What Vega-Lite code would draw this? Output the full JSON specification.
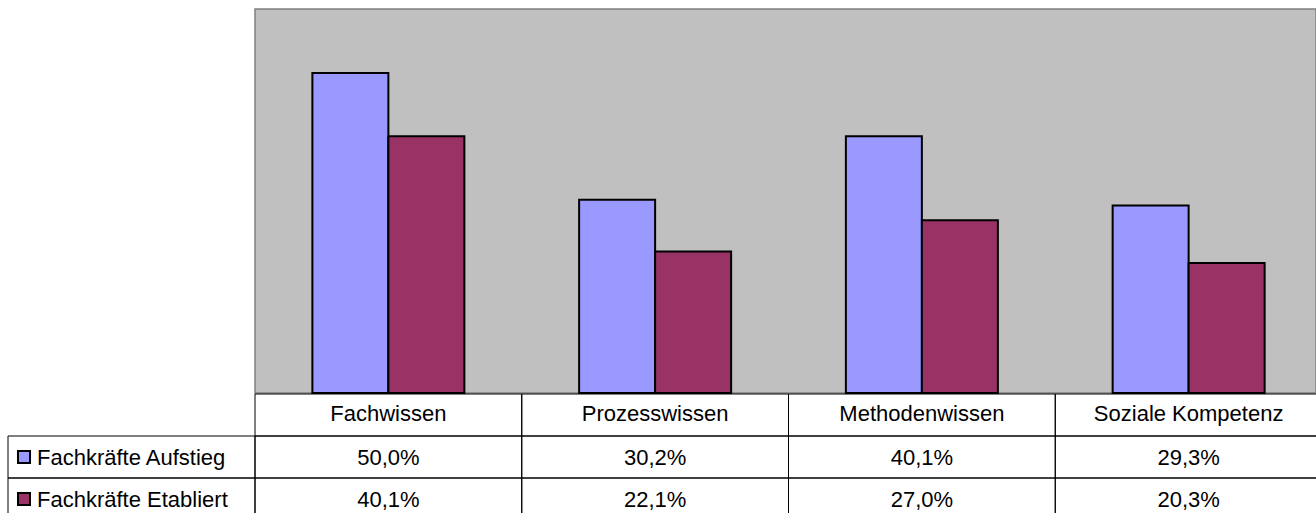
{
  "$schema": "https://vega.github.io/schema/vega-lite/v6.json",
  "width": 1061,
  "height": 384,
  "autosize": {"type": "none"},
  "padding": {"left": 255, "top": 9, "right": 0, "bottom": 120},
  "background": "#FFFFFF",
  "config": {
    "view": {"fill": "#C0C0C0", "stroke": "#808080", "strokeWidth": 1.5},
    "locale": {
      "number": {"decimal": ",", "thousands": ".", "grouping": [3], "currency": ["", " €"]}
    },
    "text": {"font": "Liberation Sans", "fontSize": 22, "fill": "#000000"}
  },
  "datasets": {
    "werte": [
      {"Bereich": "Fachwissen", "Gruppe": "Fachkräfte Aufstieg", "Anteil": 0.500},
      {"Bereich": "Fachwissen", "Gruppe": "Fachkräfte Etabliert", "Anteil": 0.401},
      {"Bereich": "Prozesswissen", "Gruppe": "Fachkräfte Aufstieg", "Anteil": 0.302},
      {"Bereich": "Prozesswissen", "Gruppe": "Fachkräfte Etabliert", "Anteil": 0.221},
      {"Bereich": "Methodenwissen", "Gruppe": "Fachkräfte Aufstieg", "Anteil": 0.401},
      {"Bereich": "Methodenwissen", "Gruppe": "Fachkräfte Etabliert", "Anteil": 0.270},
      {"Bereich": "Soziale Kompetenz", "Gruppe": "Fachkräfte Aufstieg", "Anteil": 0.293},
      {"Bereich": "Soziale Kompetenz", "Gruppe": "Fachkräfte Etabliert", "Anteil": 0.203}
    ]
  },
  "data": {"name": "werte"},
  "resolve": {"scale": {"x": "independent", "y": "independent"}},
  "layer": [
    {
      "mark": {"type": "bar", "stroke": "#000000", "strokeWidth": 2},
      "encoding": {
        "x": {
          "field": "Bereich", "type": "nominal", "axis": null,
          "scale": {"domain": ["Fachwissen", "Prozesswissen", "Methodenwissen", "Soziale Kompetenz"], "range": [0, 1067], "paddingInner": 0, "paddingOuter": 0}
        },
        "xOffset": {
          "field": "Gruppe", "type": "nominal",
          "scale": {"domain": ["Fachkräfte Aufstieg", "Fachkräfte Etabliert"], "paddingInner": 0, "paddingOuter": 0.755}
        },
        "y": {
          "field": "Anteil", "type": "quantitative", "axis": null,
          "scale": {"domain": [0, 0.6], "nice": false, "zero": true}
        },
        "color": {
          "field": "Gruppe", "type": "nominal", "legend": null,
          "scale": {"domain": ["Fachkräfte Aufstieg", "Fachkräfte Etabliert"], "range": ["#9999FF", "#993366"]}
        }
      }
    },
    {
      "encoding": {
        "x": {
          "field": "Bereich", "type": "nominal", "axis": null,
          "scale": {"domain": ["Fachwissen", "Prozesswissen", "Methodenwissen", "Soziale Kompetenz"], "range": [0, 1067], "paddingInner": 0, "paddingOuter": 0}
        }
      },
      "layer": [
        {
          "transform": [{"filter": "datum.Gruppe === 'Fachkräfte Aufstieg'"}],
          "mark": {"type": "rect", "filled": false, "stroke": "#000000", "strokeWidth": 1},
          "encoding": {
            "y": {
              "datum": "Kopf", "type": "nominal", "axis": null,
              "scale": {"domain": ["Kopf", "Fachkräfte Aufstieg", "Fachkräfte Etabliert"], "range": [385, 511], "paddingInner": 0, "paddingOuter": 0}
            }
          }
        },
        {
          "mark": {"type": "rect", "filled": false, "stroke": "#000000", "strokeWidth": 1},
          "encoding": {
            "y": {"field": "Gruppe", "type": "nominal", "axis": null}
          }
        },
        {
          "transform": [{"filter": "datum.Gruppe === 'Fachkräfte Aufstieg'"}],
          "mark": {"type": "text", "baseline": "alphabetic", "align": "center", "dy": 6, "font": "Liberation Sans", "fontSize": 22, "fill": "#000000"},
          "encoding": {
            "y": {"datum": "Kopf", "type": "nominal", "axis": null},
            "text": {"field": "Bereich", "type": "nominal"}
          }
        },
        {
          "mark": {"type": "text", "baseline": "alphabetic", "align": "center", "dy": 8, "font": "Liberation Sans", "fontSize": 22, "fill": "#000000"},
          "encoding": {
            "y": {"field": "Gruppe", "type": "nominal", "axis": null},
            "text": {"field": "Anteil", "type": "quantitative", "format": ".1%"}
          }
        }
      ]
    },
    {
      "transform": [{"filter": "datum.Bereich === 'Fachwissen'"}],
      "encoding": {
        "y": {
          "field": "Gruppe", "type": "nominal", "axis": null,
          "scale": {"domain": ["Kopf", "Fachkräfte Aufstieg", "Fachkräfte Etabliert"], "range": [385, 511], "paddingInner": 0, "paddingOuter": 0}
        }
      },
      "layer": [
        {
          "mark": {"type": "rect", "filled": false, "stroke": "#000000", "strokeWidth": 1},
          "encoding": {
            "x": {
              "datum": "Legende", "type": "nominal", "axis": null,
              "scale": {"domain": ["Legende"], "range": [-247, 0], "paddingInner": 0, "paddingOuter": 0}
            }
          }
        },
        {
          "mark": {"type": "point", "shape": "square", "size": 144, "filled": true, "stroke": "#000000", "strokeWidth": 2, "opacity": 1, "xOffset": 16},
          "encoding": {
            "x": {"datum": "Legende", "type": "nominal", "axis": null, "bandPosition": 0},
            "color": {"field": "Gruppe", "type": "nominal", "legend": null}
          }
        },
        {
          "mark": {"type": "text", "baseline": "alphabetic", "align": "left", "dx": 29, "dy": 8, "font": "Liberation Sans", "fontSize": 22, "fill": "#000000"},
          "encoding": {
            "x": {"datum": "Legende", "type": "nominal", "axis": null, "bandPosition": 0},
            "text": {"field": "Gruppe", "type": "nominal"}
          }
        }
      ]
    }
  ]
}
